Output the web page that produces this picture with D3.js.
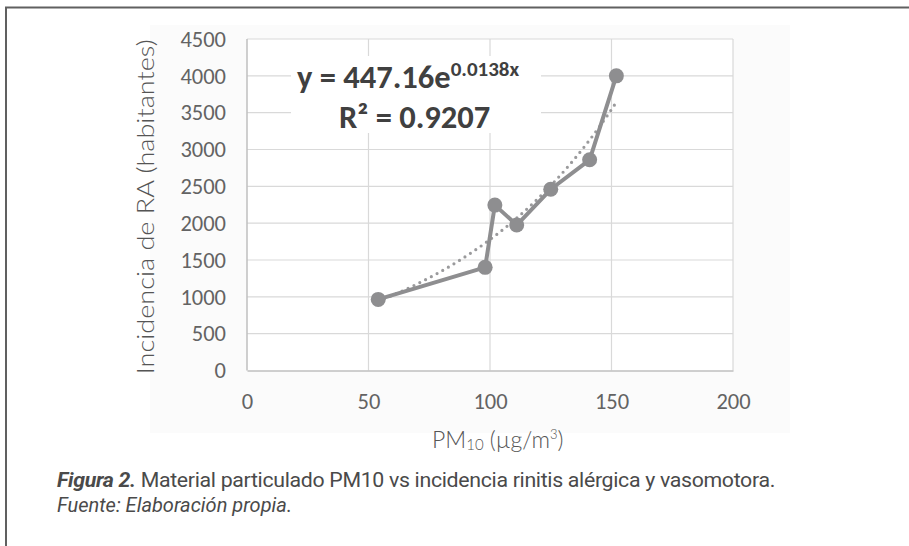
<!DOCTYPE html>
<html>
<head>
<meta charset="utf-8">
<script src="https://cdn.jsdelivr.net/npm/d3@7/dist/d3.min.js"></script>
<style>
  html, body { margin: 0; padding: 0; background: #fff; }
  svg { display: block; }
</style>
</head>
<body>
<svg id="chart" width="909" height="546"></svg>
<script>
// ---- data ----
const pm10 = [54, 98, 102, 111, 125, 141, 152];
const incidence = [965, 1400, 2245, 1975, 2460, 2860, 4000];
const xTicks = [0, 50, 100, 150, 200];
const yTicks = [0, 500, 1000, 1500, 2000, 2500, 3000, 3500, 4000, 4500];
const trendA = 447.16;
const trendB = 0.0138;
const trendLabel = "y = 447.16e";
const trendExp = "0.0138x";
const r2Label = "R² = 0.9207";
const yTitle = "Incidencia de RA (habitantes)";
const captionBold = "Figura 2.";
const captionText = " Material particulado PM10 vs incidencia rinitis alérgica y vasomotora.";
const sourceText = "Fuente: Elaboración propia.";

(function () {
const svg = d3.select("#chart");
const W = 909, H = 546;
const pL = 247, pR = 733, pT = 39, pB = 370.5;

const x = d3.scaleLinear().domain([0, 200]).range([pL, pR]);
const y = d3.scaleLinear().domain([0, 4500]).range([pB, pT]);

const tickFont = "Carlito, Lato, 'Open Sans', sans-serif";
const grey = "#8e8e90";

// frame
svg.append("rect").attr("x", 150).attr("y", 25).attr("width", 640).attr("height", 408).attr("fill", "#fbfbfb");
svg.append("line").attr("x1", 5).attr("x2", W).attr("y1", 7.5).attr("y2", 7.5).attr("stroke", "#606060").attr("stroke-width", 2);
svg.append("line").attr("x1", 6).attr("x2", 6).attr("y1", 7).attr("y2", H).attr("stroke", "#606060").attr("stroke-width", 2);

// plot background
svg.append("rect").attr("x", pL).attr("y", pT).attr("width", pR - pL).attr("height", pB - pT).attr("fill", "#fff");

// gridlines
const g = svg.append("g");
g.selectAll("line.hg").data(yTicks.filter(d => d > 0)).join("line")
  .attr("x1", pL).attr("x2", pR)
  .attr("y1", d => y(d)).attr("y2", d => y(d))
  .attr("stroke", "#d9d9d9").attr("stroke-width", 1.2);
g.selectAll("line.vg").data(xTicks.filter(d => d > 0)).join("line")
  .attr("y1", pT).attr("y2", pB)
  .attr("x1", d => x(d)).attr("x2", d => x(d))
  .attr("stroke", "#d9d9d9").attr("stroke-width", 1.2);

// axes via d3
const fmt = d3.format("d");
const xAxis = svg.append("g").attr("transform", `translate(0,${pB})`)
  .call(d3.axisBottom(x).tickValues(xTicks).tickFormat(fmt).tickSize(0).tickPadding(22));
const yAxis = svg.append("g").attr("transform", `translate(${pL},0)`)
  .call(d3.axisLeft(y).tickValues(yTicks).tickFormat(fmt).tickSize(0).tickPadding(21));
[xAxis, yAxis].forEach(a => {
  a.select(".domain").attr("stroke", "#bfbfbf").attr("stroke-width", 1.5);
  a.selectAll("text").attr("font-family", tickFont).attr("font-size", 22.5).attr("fill", "#636363");
});
yAxis.select(".domain").remove();
svg.append("line").attr("x1", pL).attr("x2", pL).attr("y1", pT).attr("y2", pB).attr("stroke", "#bfbfbf").attr("stroke-width", 1.5);
xAxis.selectAll("text").attr("dy", "0.35em").attr("y", 31);

// equation box
svg.append("rect").attr("x", 291).attr("y", 56).attr("width", 250).attr("height", 77).attr("fill", "#fff");
const eq = svg.append("text").attr("x", 297).attr("y", 88)
  .attr("font-family", tickFont).attr("font-weight", "bold").attr("font-size", 32.5).attr("fill", "#404040");
eq.append("tspan").text(trendLabel);
eq.append("tspan").attr("dy", -12).attr("font-size", 21).text(trendExp);
svg.append("text").attr("x", 339).attr("y", 128)
  .attr("font-family", tickFont).attr("font-weight", "bold").attr("font-size", 32.5).attr("fill", "#404040")
  .text(r2Label);

// trendline (from the equation shown in the chart)
const tx = d3.range(pm10[0], pm10[pm10.length - 1] + 0.5, 1);
svg.append("path")
  .attr("d", d3.line().x(d => x(d)).y(d => y(trendA * Math.exp(trendB * d)))(tx))
  .attr("fill", "none").attr("stroke", "#9a9a9c").attr("stroke-width", 3.2)
  .attr("stroke-linecap", "round").attr("stroke-dasharray", "0,6.5");

// series line
const pts = pm10.map((v, i) => [v, incidence[i]]);
svg.append("path")
  .attr("d", d3.line().x(d => x(d[0])).y(d => y(d[1]))(pts))
  .attr("fill", "none").attr("stroke", grey).attr("stroke-width", 4).attr("stroke-linejoin", "round");
svg.selectAll("circle.pt").data(pts).join("circle")
  .attr("cx", d => x(d[0])).attr("cy", d => y(d[1])).attr("r", 7.5).attr("fill", grey);

// axis titles
svg.append("text")
  .attr("transform", `translate(154,${(pT + pB) / 2 + 2}) rotate(-90)`)
  .attr("text-anchor", "middle")
  .attr("font-family", "Lato, 'Open Sans', sans-serif").attr("font-weight", 300)
  .attr("font-size", 23).attr("fill", "#555")
  .attr("textLength", 335).attr("lengthAdjust", "spacingAndGlyphs")
  .text(yTitle);

const xt = svg.append("text").attr("x", 432).attr("y", 448)
  .attr("font-family", "Lato, 'Open Sans', sans-serif").attr("font-weight", 300)
  .attr("font-size", 23).attr("fill", "#555");
xt.append("tspan").text("PM");
xt.append("tspan").attr("font-size", 15).attr("dy", 2).text("10");
xt.append("tspan").attr("dy", -2).text(" (µg/m");
xt.append("tspan").attr("font-size", 13).attr("dy", -9).text("3");
xt.append("tspan").attr("dy", 9).text(")");

// caption
const cap = svg.append("text").attr("x", 57).attr("y", 487)
  .attr("font-family", "Roboto, 'Noto Sans', sans-serif").attr("font-size", 19.5).attr("fill", "#4a4a4a")
  .attr("letter-spacing", -0.3)
  .attr("textLength", 718).attr("lengthAdjust", "spacingAndGlyphs");
cap.append("tspan").attr("font-weight", "bold").attr("font-style", "italic").text(captionBold);
cap.append("tspan").text(captionText);
svg.append("text").attr("x", 57).attr("y", 512)
  .attr("font-family", "Roboto, 'Noto Sans', sans-serif").attr("font-size", 19.5).attr("font-style", "italic").attr("fill", "#4a4a4a")
  .attr("textLength", 235).attr("lengthAdjust", "spacingAndGlyphs")
  .text(sourceText);
})();
</script>
</body>
</html>
